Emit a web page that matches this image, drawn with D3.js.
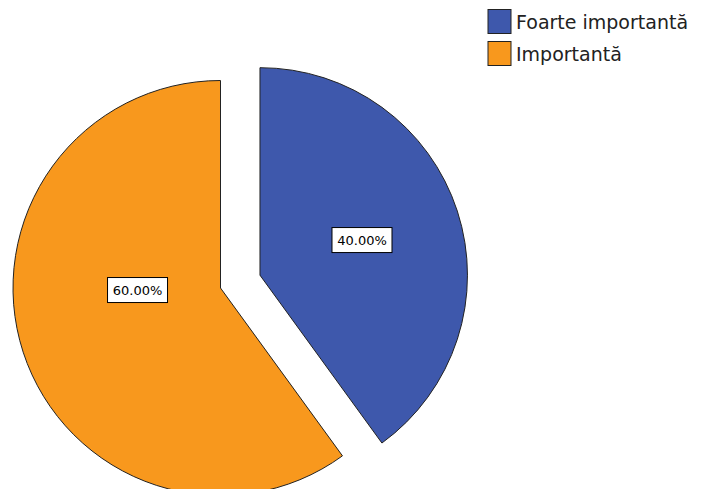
<!DOCTYPE html>
<html>
<head>
<meta charset="utf-8">
<script src="https://cdn.jsdelivr.net/npm/d3@7"></script>
<style>
  html, body { margin: 0; padding: 0; background: #fff; }
  svg { display: block; }
</style>
</head>
<body>
<svg id="chart" width="706" height="489"></svg>
<script>
// ---- data ----
const categories = ["Foarte importantă", "Importantă"];
const values = [40, 60];
const valueLabels = ["40.00%", "60.00%"];
const colors = ["#3e58ac", "#f8981d"];

// ---- layout ----
const W = 706, H = 489;
const cx = 220.5, cy = 288, R = 207.5;
const explode = [41.5, 0];          // explode distance per slice
const labelFrac = [0.52, 0.40];     // label radius as fraction of R
const labelAngleShift = [-1, 16.6]; // degrees shift from mid angle

const svg = d3.select("#chart");

const pie = d3.pie().sort(null).value(d => d)
  .startAngle(0).endAngle(2 * Math.PI);
const arcs = pie(values);
const arc = d3.arc().innerRadius(0).outerRadius(R);

const g = svg.append("g").attr("transform", `translate(${cx},${cy})`);

const slices = g.selectAll("g.slice").data(arcs).enter().append("g")
  .attr("class", "slice")
  .attr("transform", (d, i) => {
    const m = (d.startAngle + d.endAngle) / 2;
    return `translate(${explode[i] * Math.sin(m)},${-explode[i] * Math.cos(m)})`;
  });

slices.append("path")
  .attr("d", arc)
  .attr("fill", (d, i) => colors[i])
  .attr("stroke", "#222")
  .attr("stroke-width", 1)
  .attr("stroke-linejoin", "miter");

slices.each(function (d, i) {
  const m = (d.startAngle + d.endAngle) / 2 + labelAngleShift[i] * Math.PI / 180;
  const r = labelFrac[i] * R;
  const x = r * Math.sin(m), y = -r * Math.cos(m);
  const lg = d3.select(this).append("g").attr("transform", `translate(${x},${y})`);
  const t = lg.append("text")
    .attr("text-anchor", "middle")
    .attr("dy", "0.36em")
    .attr("font-family", "DejaVu Sans, sans-serif")
    .attr("font-size", 13)
    .attr("fill", "#000")
    .text(valueLabels[i]);
  const bb = t.node().getBBox();
  lg.insert("rect", "text")
    .attr("x", -30).attr("y", -12.5)
    .attr("width", 60).attr("height", 25)
    .attr("fill", "#fff")
    .attr("stroke", "#000")
    .attr("stroke-width", 1);
});

// ---- legend ----
const legend = svg.append("g").attr("transform", "translate(488,9.5)");
const items = legend.selectAll("g").data(categories).enter().append("g")
  .attr("transform", (d, i) => `translate(0,${i * 32})`);
items.append("rect")
  .attr("width", 23).attr("height", 24)
  .attr("fill", (d, i) => colors[i])
  .attr("stroke", "#222").attr("stroke-width", 1);
items.append("text")
  .attr("x", 28).attr("y", 19)
  .attr("font-family", "DejaVu Sans, sans-serif")
  .attr("font-size", 19)
  .attr("fill", "#222")
  .text(d => d);
</script>
</body>
</html>
